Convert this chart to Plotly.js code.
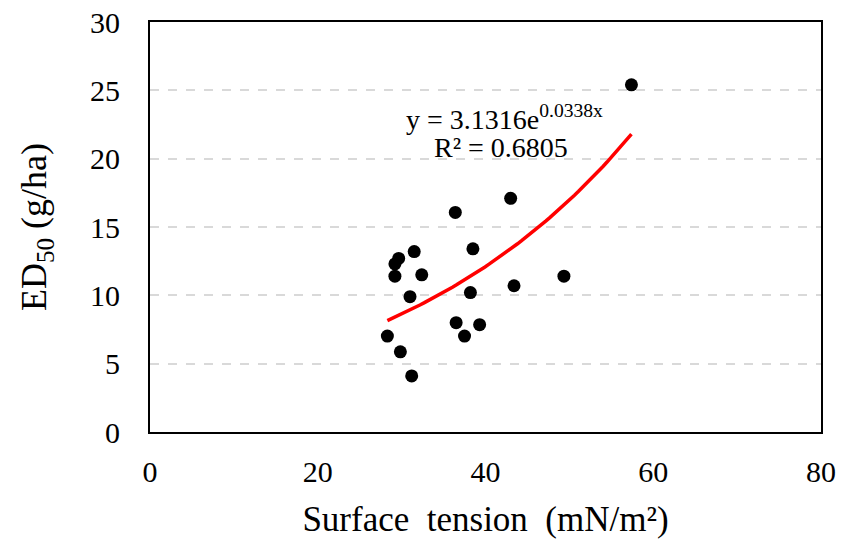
<!DOCTYPE html>
<html>
<head>
<meta charset="utf-8">
<script src="https://cdn.plot.ly/plotly-3.0.1.min.js"></script>
<style>html,body{margin:0;padding:0;background:#fff;}#chart{width:841px;height:542px;}</style>
</head>
<body>
<div id="chart"></div>
<script>
// Data
const surfaceTension = [43.0, 36.4, 31.5, 29.65, 29.2, 29.2, 32.4, 38.5, 49.35, 43.4, 38.2, 31.0, 36.5, 39.3, 37.5, 28.3, 29.85, 31.2, 57.4];
const ed50 = [17.1, 16.07, 13.2, 12.7, 12.3, 11.4, 11.5, 13.4, 11.4, 10.7, 10.2, 9.9, 8.0, 7.85, 7.02, 7.02, 5.87, 4.1, 25.4];
// Exponential trendline coefficients shown on the chart
const trendA = 3.1316;
const trendB = 0.0338;
const eqText = "y = 3.1316e<sup>0.0338x</sup>";
const r2Text = "R² = 0.6805";
const xTicks = [0, 20, 40, 60, 80];
const yTicks = [0, 5, 10, 15, 20, 25, 30];

const xMin = Math.min(...surfaceTension), xMax = Math.max(...surfaceTension);
const trendX = [], trendY = [];
for (let i = 0; i <= 60; i++) {
  const x = xMin + (xMax - xMin) * i / 60;
  trendX.push(x);
  trendY.push(trendA * Math.exp(trendB * x));
}

const font = "'Liberation Serif', 'Times New Roman', serif";

const data = [
  {
    x: trendX, y: trendY, type: 'scatter', mode: 'lines',
    line: {color: '#ff0000', width: 3.5}, hoverinfo: 'skip', showlegend: false
  },
  {
    x: surfaceTension, y: ed50, type: 'scatter', mode: 'markers',
    marker: {color: '#000000', size: 13}, showlegend: false
  }
];

const layout = {
  width: 841, height: 542,
  margin: {l: 150, r: 20, t: 22, b: 110},
  paper_bgcolor: '#ffffff', plot_bgcolor: '#ffffff',
  font: {family: font, color: '#000000', size: 28},
  showlegend: false,
  xaxis: {
    range: [0, 80], tickvals: xTicks, ticktext: xTicks.map(String),
    showgrid: false, zeroline: false,
    showline: true, mirror: true, linecolor: '#000000', linewidth: 2,
    ticks: 'outside', ticklen: 12, tickcolor: 'rgba(0,0,0,0)',
    tickfont: {family: font, size: 30, color: '#000'},
    title: {text: 'Surface  tension  (mN/m²)', font: {family: font, size: 35, color: '#000'}, standoff: 19}
  },
  yaxis: {
    range: [0, 30], tickvals: yTicks, ticktext: yTicks.map(String),
    showgrid: true, gridcolor: '#d9d9d9', gridwidth: 2, griddash: 'dash',
    zeroline: false,
    showline: true, mirror: true, linecolor: '#000000', linewidth: 2,
    ticks: 'outside', ticklen: 22, tickcolor: 'rgba(0,0,0,0)',
    tickfont: {family: font, size: 30, color: '#000'},
    title: {text: 'ED<sub>50</sub> (g/ha)', font: {family: font, size: 36, color: '#000'}, standoff: 32}
  },
  annotations: [
    {x: 42.3, y: 23.0, xref: 'x', yref: 'y', text: eqText, showarrow: false,
     font: {family: font, size: 28, color: '#000'}},
    {x: 41.8, y: 20.8, xref: 'x', yref: 'y', text: r2Text, showarrow: false,
     font: {family: font, size: 28, color: '#000'}}
  ]
};

Plotly.newPlot('chart', data, layout, {displayModeBar: false, staticPlot: true});
</script>
</body>
</html>
